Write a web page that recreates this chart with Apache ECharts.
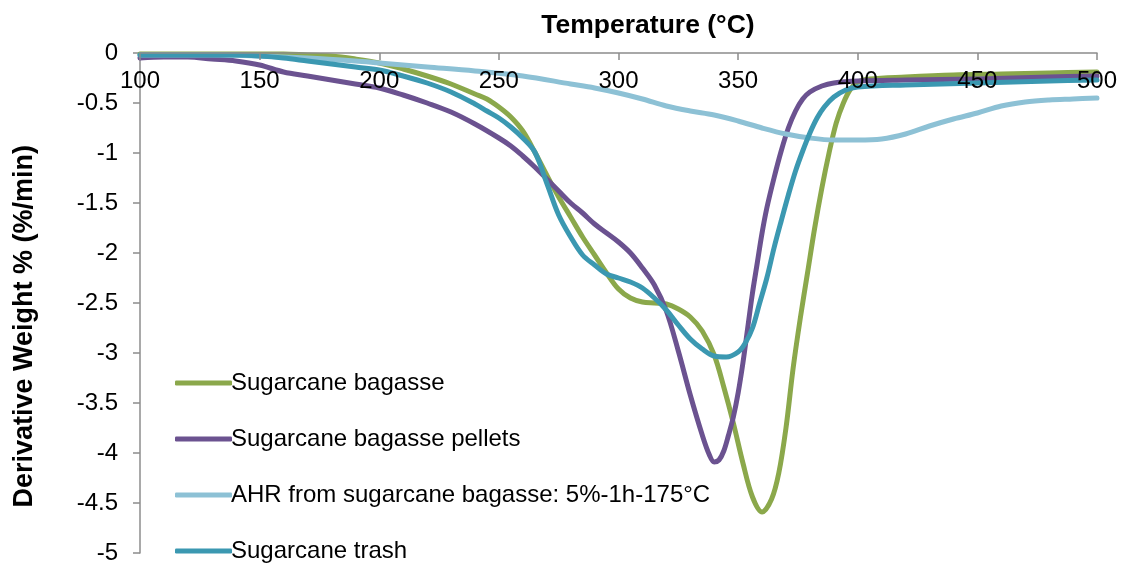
<!DOCTYPE html>
<html>
<head>
<meta charset="utf-8">
<title>DTG curves</title>
<script src="https://cdn.jsdelivr.net/npm/echarts@6/dist/echarts.min.js"></script>
<style>
  html, body { margin: 0; padding: 0; background: #ffffff; }
  #chart { width: 1131px; height: 568px; }
</style>
</head>
<body>
<div id="chart"></div>
<script>
// Derivative weight loss (%/min) versus temperature (°C), read as [temperature, value]
const seriesNames = [
  'Sugarcane bagasse',
  'Sugarcane bagasse pellets',
  'AHR from sugarcane bagasse: 5%-1h-175°C',
  'Sugarcane trash'
];

const bagasse = [
  [100, -0.01], [120, -0.01], [140, -0.01], [160, -0.01], [170, -0.02], [180, -0.03],
  [190, -0.06], [200, -0.10], [210, -0.16], [220, -0.23], [230, -0.31], [240, -0.41],
  [245, -0.46], [250, -0.54], [255, -0.64], [260, -0.78], [265, -0.99], [270, -1.22],
  [275, -1.44], [280, -1.64], [285, -1.84], [290, -2.02], [295, -2.20], [300, -2.36],
  [305, -2.45], [310, -2.49], [315, -2.50], [320, -2.51], [325, -2.56], [330, -2.64],
  [335, -2.78], [340, -3.02], [344, -3.34], [348, -3.70], [352, -4.10], [356, -4.44],
  [360, -4.59], [364, -4.46], [367, -4.20], [370, -3.75], [373, -3.15], [376, -2.65],
  [379, -2.20], [382, -1.75], [385, -1.35], [388, -1.00], [391, -0.70], [394, -0.50],
  [397, -0.36], [400, -0.29], [405, -0.26], [420, -0.24], [440, -0.22], [460, -0.21],
  [480, -0.20], [500, -0.19]
];

const pellets = [
  [100, -0.05], [110, -0.04], [120, -0.04], [130, -0.06], [140, -0.08], [150, -0.12],
  [160, -0.19], [170, -0.23], [180, -0.27], [190, -0.31], [200, -0.35], [210, -0.42],
  [220, -0.50], [230, -0.59], [240, -0.71], [250, -0.85], [255, -0.93], [260, -1.03],
  [265, -1.14], [270, -1.26], [275, -1.38], [280, -1.50], [285, -1.60], [290, -1.71],
  [295, -1.80], [300, -1.89], [305, -2.00], [310, -2.15], [315, -2.32], [320, -2.58],
  [325, -2.98], [330, -3.42], [335, -3.82], [338, -4.02], [340, -4.09], [342, -4.07],
  [344, -3.98], [346, -3.82], [348, -3.64], [350, -3.40], [352, -3.10], [354, -2.75],
  [356, -2.40], [358, -2.10], [360, -1.80], [362, -1.55], [365, -1.25], [368, -0.98],
  [371, -0.75], [374, -0.58], [377, -0.46], [380, -0.39], [385, -0.33], [390, -0.30],
  [400, -0.28], [420, -0.27], [450, -0.26], [480, -0.24], [500, -0.23]
];

const ahr = [
  [100, -0.02], [130, -0.02], [150, -0.03], [170, -0.05], [190, -0.08], [200, -0.10],
  [220, -0.14], [240, -0.18], [260, -0.23], [280, -0.31], [290, -0.35], [300, -0.40],
  [310, -0.46], [320, -0.53], [330, -0.58], [340, -0.62], [350, -0.68], [360, -0.75],
  [370, -0.81], [380, -0.85], [390, -0.87], [400, -0.87], [410, -0.86], [420, -0.81],
  [430, -0.73], [440, -0.66], [450, -0.60], [460, -0.53], [470, -0.49], [480, -0.47],
  [490, -0.46], [500, -0.45]
];

const trash = [
  [100, -0.02], [120, -0.02], [140, -0.02], [150, -0.03], [160, -0.05], [170, -0.08],
  [180, -0.11], [190, -0.14], [200, -0.17], [210, -0.23], [220, -0.30], [230, -0.39],
  [240, -0.51], [245, -0.58], [250, -0.65], [255, -0.74], [260, -0.85], [265, -0.99],
  [270, -1.30], [275, -1.62], [280, -1.84], [285, -2.02], [290, -2.12], [295, -2.21],
  [300, -2.25], [305, -2.29], [310, -2.35], [315, -2.45], [320, -2.57], [325, -2.72],
  [330, -2.86], [335, -2.96], [340, -3.03], [345, -3.04], [350, -2.99], [353, -2.90],
  [356, -2.75], [359, -2.50], [362, -2.25], [365, -1.95], [368, -1.68], [371, -1.42],
  [374, -1.18], [377, -0.98], [380, -0.80], [383, -0.65], [386, -0.54], [390, -0.44],
  [395, -0.37], [400, -0.34], [420, -0.32], [450, -0.30], [480, -0.28], [500, -0.27]
];

const seriesData = [bagasse, pellets, ahr, trash];
const seriesColors = ['#8BA84B', '#6B5290', '#8DC1D5', '#3B98B1'];

const FONT = 'Arial, "Liberation Sans", sans-serif';
const AXIS_GRAY = '#8C8C8C';

const chart = echarts.init(document.getElementById('chart'), null, { renderer: 'canvas' });

chart.setOption({
  animation: false,
  backgroundColor: '#ffffff',
  title: {
    text: 'Temperature (°C)',
    left: 643,
    top: 7,
    textAlign: 'center',
    textStyle: { fontFamily: FONT, fontSize: 26.5, fontWeight: 'bold', color: '#000000' }
  },
  // y-axis title, placed on its own so its centre can sit below the plot middle
  graphic: [{
    type: 'text',
    left: 11,
    top: 145,
    rotation: Math.PI / 2,
    originX: 0,
    originY: 0,
    style: {
      text: 'Derivative Weight % (%/min)',
      fontFamily: FONT,
      fontSize: 27,
      fontWeight: 'bold',
      fill: '#000000'
    }
  }],
  legend: {
    orient: 'vertical',
    left: 170,
    top: 366,
    itemWidth: 57,
    itemHeight: 5,
    itemGap: 32,
    icon: 'roundRect',
    data: seriesNames,
    textStyle: { fontFamily: FONT, fontSize: 24, color: '#000000', lineHeight: 24, padding: [0, 0, 0, -6] }
  },
  grid: { left: 140, right: 34, top: 53, bottom: 15, containLabel: false },
  xAxis: {
    type: 'value',
    min: 100,
    max: 500,
    interval: 50,
    position: 'top',
    z: 5,
    axisLine: { onZero: false, lineStyle: { color: AXIS_GRAY, width: 1.5 } },
    axisTick: { show: true, inside: true, length: 7, lineStyle: { color: AXIS_GRAY, width: 1.5 } },
    axisLabel: { inside: true, margin: 16, fontFamily: FONT, fontSize: 24, color: '#000000', showMinLabel: true, showMaxLabel: true },
    splitLine: { show: false }
  },
  yAxis: {
    type: 'value',
    min: -5,
    max: 0,
    interval: 0.5,
    axisLine: { show: true, onZero: false, lineStyle: { color: AXIS_GRAY, width: 1.5 } },
    axisTick: { show: true, length: 7, lineStyle: { color: AXIS_GRAY, width: 1.5 } },
    axisLabel: { margin: 22, fontFamily: FONT, fontSize: 24, color: '#000000' },
    splitLine: { show: false }
  },
  series: seriesNames.map((name, i) => ({
    name: name,
    type: 'line',
    data: seriesData[i],
    showSymbol: false,
    symbol: 'none',
    smooth: 0.35,
    color: seriesColors[i],
    lineStyle: { color: seriesColors[i], width: 5, cap: 'round', join: 'round' }
  }))
});
</script>
</body>
</html>
